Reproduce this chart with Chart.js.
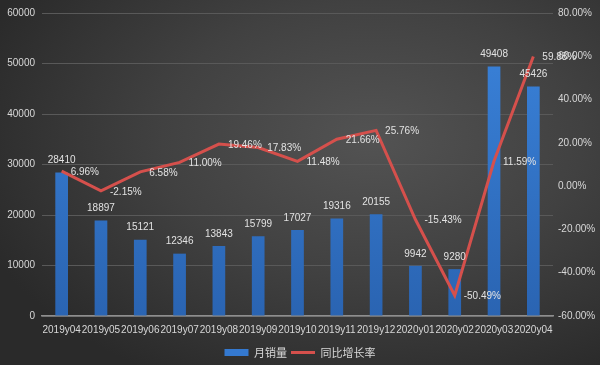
<!DOCTYPE html>
<html>
<head>
<meta charset="utf-8">
<script src="https://cdn.jsdelivr.net/npm/chart.js@4.4.1/dist/chart.umd.min.js"></script>
<style>
  html, body { margin: 0; padding: 0; }
  body {
    width: 600px; height: 365px; overflow: hidden;
    background: radial-gradient(ellipse 70% 75% at 62% 38%, #535353 0%, #414141 50%, #2a2a2a 100%);
  }
  #wrap { width: 600px; height: 365px; }
</style>
</head>
<body>
<div id="wrap"><canvas id="grafica"></canvas></div>
<script>
const meses = ['2019y04', '2019y05', '2019y06', '2019y07', '2019y08', '2019y09', '2019y10',
               '2019y11', '2019y12', '2020y01', '2020y02', '2020y03', '2020y04'];
const ventas = [28410, 18897, 15121, 12346, 13843, 15799, 17027, 19316, 20155, 9942, 9280, 49408, 45426];
const crecimiento = [6.96, -2.15, 6.58, 11.00, 19.46, 17.83, 11.48, 21.66, 25.76, -15.43, -50.49, 11.59, 59.88];
const ticksVentas = [0, 10000, 20000, 30000, 40000, 50000, 60000];
const ticksPct = [-60, -40, -20, 0, 20, 40, 60, 80];

const fuente = "'Liberation Sans', Arial, sans-serif";
const fuenteCJK = "'Noto Sans CJK SC', sans-serif";
const azul = '#3479d0';
const rojo = '#d5504c';
const gris = '#d8d8d8';

// etiquetas de datos dibujadas a mano (no hay plugin datalabels)
const etiquetas = {
    id: 'etiquetas',
    afterDatasetsDraw(chart) {
        const ctx = chart.ctx;
        ctx.save();
        ctx.font = '10px ' + fuente;
        ctx.fillStyle = '#e2e2e2';

        const barras = chart.getDatasetMeta(0).data;
        ctx.textAlign = 'center';
        ctx.textBaseline = 'bottom';
        barras.forEach((b, i) => {
            ctx.fillText(ventas[i], b.x, b.y - 7);
        });

        const puntos = chart.getDatasetMeta(1).data;
        ctx.textAlign = 'left';
        ctx.textBaseline = 'middle';
        puntos.forEach((p, i) => {
            ctx.fillText(crecimiento[i].toFixed(2) + '%', p.x + 9, p.y + 1);
        });
        ctx.restore();
    }
};

const context = document.getElementById('grafica').getContext('2d');

const chart = new Chart(context, {
    data: {
        labels: meses,
        datasets: [
            {
                type: 'bar',
                label: '月销量',
                data: ventas,
                yAxisID: 'y',
                backgroundColor: (c) => {
                    const area = c.chart.chartArea;
                    if (!area) return azul;
                    const g = c.chart.ctx.createLinearGradient(0, area.top, 0, area.bottom);
                    g.addColorStop(0, '#3b84dc');
                    g.addColorStop(1, '#2a64b2');
                    return g;
                },
                barPercentage: 0.38,
                categoryPercentage: 0.85,
                order: 2
            },
            {
                type: 'line',
                label: '同比增长率',
                data: crecimiento,
                yAxisID: 'y1',
                borderColor: rojo,
                backgroundColor: rojo,
                borderWidth: 3,
                pointRadius: 0,
                tension: 0,
                order: 1
            }
        ]
    },
    options: {
        responsive: true,
        maintainAspectRatio: false,
        animation: false,
        layout: { padding: { top: 5, left: 0, right: 0, bottom: -3 } },
        scales: {
            x: {
                grid: { display: false },
                border: { display: true, color: '#8e8e8e', width: 1.5 },
                afterFit: (s) => { s.height = 27; },
                ticks: {
                    color: gris, font: { family: fuente, size: 10 },
                    maxRotation: 0, autoSkip: false, padding: 0
                }
            },
            y: {
                position: 'left',
                min: 0,
                max: 60000,
                afterBuildTicks: (s) => { s.ticks = ticksVentas.map(v => ({ value: v })); },
                afterFit: (s) => { s.width = 42; },
                grid: { color: '#595959', lineWidth: 1, drawTicks: false },
                border: { display: false },
                ticks: {
                    color: gris, font: { family: fuente, size: 10 }, padding: 7,
                    callback: (v) => String(v)
                }
            },
            y1: {
                position: 'right',
                min: -60,
                max: 80,
                afterBuildTicks: (s) => { s.ticks = ticksPct.map(v => ({ value: v })); },
                afterFit: (s) => { s.width = 47; },
                grid: { display: false, drawTicks: false },
                border: { display: false },
                ticks: {
                    color: gris,
                    font: { family: fuente, size: 10 },
                    padding: 5,
                    callback: (v) => v.toFixed(2) + '%'
                }
            }
        },
        plugins: {
            legend: {
                position: 'bottom',
                labels: {
                    color: gris,
                    font: { family: fuenteCJK, size: 11 },
                    usePointStyle: true,
                    pointStyleWidth: 24,
                    boxHeight: 7,
                    padding: 4,
                    generateLabels: (ch) => {
                        const items = Chart.defaults.plugins.legend.labels.generateLabels(ch);
                        items.sort((a, b) => a.datasetIndex - b.datasetIndex);
                        items[0].pointStyle = 'rect';
                        items[0].fillStyle = azul;
                        items[0].lineWidth = 0;
                        items[1].pointStyle = 'line';
                        items[1].strokeStyle = rojo;
                        items[1].lineWidth = 3;
                        return items;
                    }
                }
            },
            tooltip: { enabled: false }
        }
    },
    plugins: [etiquetas]
});
</script>
</body>
</html>
